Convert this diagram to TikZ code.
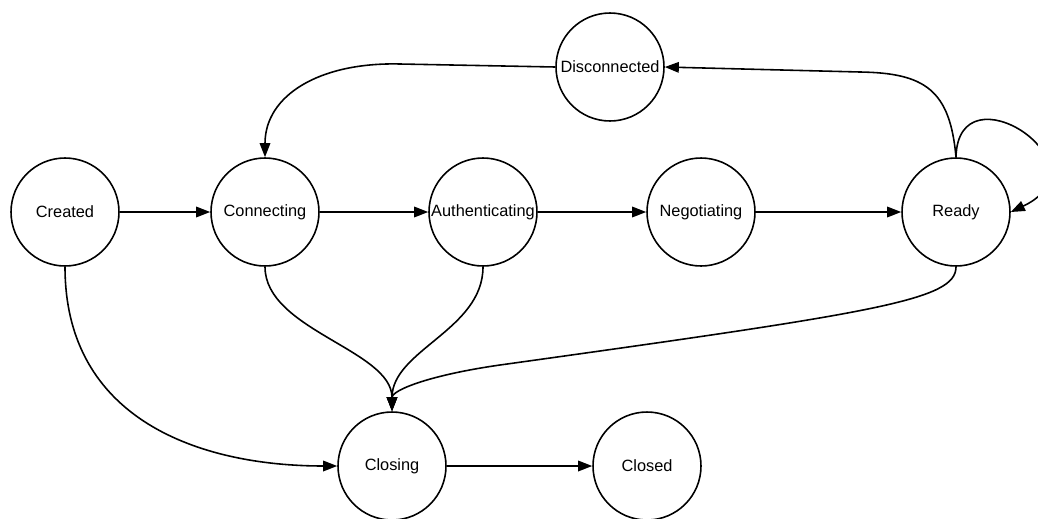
\documentclass[tikz,border=0pt]{standalone}
\usepackage{fontspec}
\setmainfont{Liberation Sans}
\usetikzlibrary{arrows.meta}
\tikzset{
    statenode/.style={draw, circle, line width=0.9pt, minimum size=2.16cm, inner sep=0pt, font=\fontsize{9.3}{11}\selectfont},
    trans/.style={line width=0.9pt, -{Triangle[length=8pt,width=6pt]}}
}
\begin{document}
\begin{tikzpicture}[x=0.02cm, y=-0.02cm]
            \useasboundingbox (0,0) rectangle (1038,518);
            \node[statenode] (created) at (65, 212) {Created};
            \node[statenode] (connecting) at (265, 212) {Connecting};
            \node[statenode] (auth) at (483, 212) {Authenticating};
            \node[statenode] (negot) at (701, 212) {Negotiating};
            \node[statenode] (ready) at (956, 212) {Ready};
            \node[statenode] (disc) at (610, 67) {Disconnected};
            \node[statenode] (closing) at (392, 466) {Closing};
            \node[statenode] (closed) at (647, 466) {Closed};
            \draw[trans] (created) -- (connecting);
            \draw[trans] (connecting) -- (auth);
            \draw[trans] (auth) -- (negot);
            \draw[trans] (negot) -- (ready);
            \draw[trans] (closing) -- (closed);
            \draw[trans] (ready.north) .. controls (950, 90) and (925, 73) .. (860, 72) -- (disc.east);
            \draw[trans] (disc.west) -- (400, 64) .. controls (320, 62) and (265, 95) .. (connecting.north);
            \draw[trans] (ready.north) .. controls (958, 65) and (1110, 165) .. (ready.east);
            \draw[trans] (created.south) .. controls (65, 420) and (200, 466) .. (closing.west);
            \draw[trans] (connecting.south) .. controls (265, 330) and (392, 350) .. (closing.north);
            \draw[trans] (auth.south) .. controls (483, 330) and (392, 350) .. (closing.north);
            \draw[trans] (ready.south) .. controls (956, 300) and (880, 312) .. (500, 365) .. controls (430, 375) and (392, 390) .. (closing.north);
        \end{tikzpicture}
\end{document}
